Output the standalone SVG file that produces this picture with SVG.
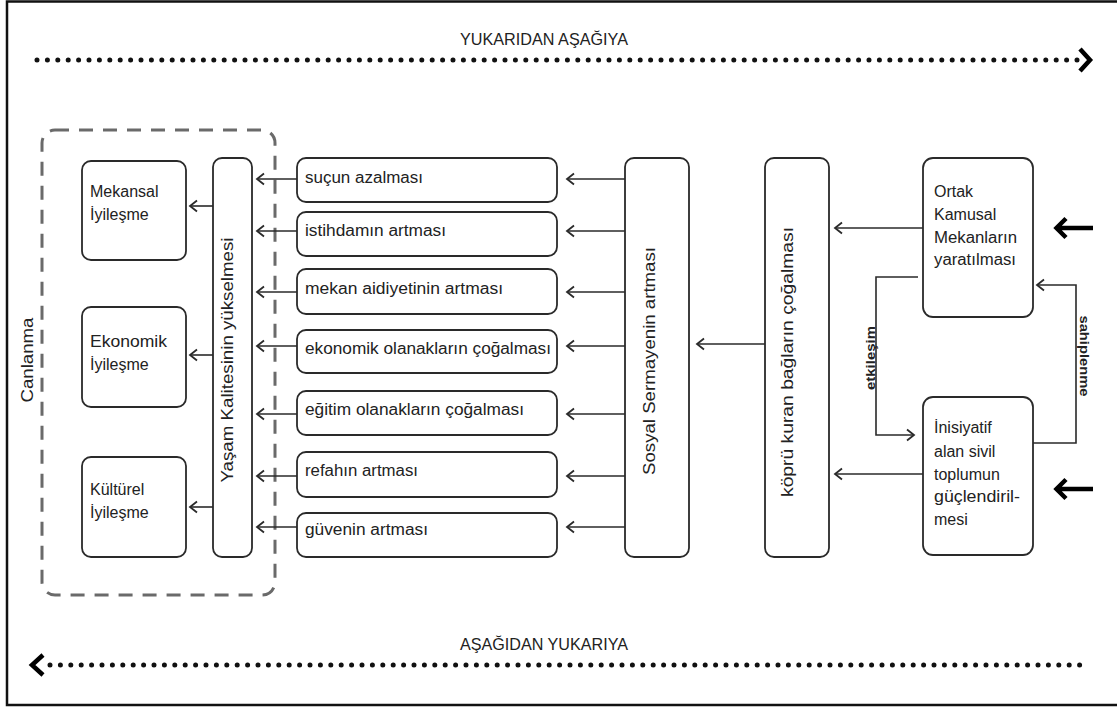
<svg xmlns="http://www.w3.org/2000/svg" width="1117" height="707" viewBox="0 0 1117 707">
<defs>
<style>
.box{fill:#fff;stroke:#2a2a2a;stroke-width:1.8}
.t{font-family:"Liberation Sans",Arial,sans-serif;font-size:16px;fill:#222}
.tv{font-family:"Liberation Sans",Arial,sans-serif;font-size:17px;fill:#222;text-anchor:middle}
.lbl{font-family:"Liberation Sans",Arial,sans-serif;font-size:12px;font-weight:bold;fill:#222;text-anchor:middle}
.hd{font-family:"Liberation Sans",Arial,sans-serif;font-size:17px;fill:#222;text-anchor:middle}
.c{fill:none;stroke:#2a2a2a;stroke-width:1.6;marker-end:url(#ah)}
.dots{fill:none;stroke:#111;stroke-width:5;stroke-linecap:round;stroke-dasharray:0 10.4}
.bold{fill:none;stroke:#000;stroke-width:4.5;stroke-linecap:butt;stroke-linejoin:miter}
</style>
<marker id="ah" markerUnits="userSpaceOnUse" markerWidth="14" markerHeight="14" viewBox="-10 -7 14 14" refX="0" refY="0" orient="auto">
<path d="M-7,-5.5 L0,0 L-7,5.5" fill="none" stroke="#2a2a2a" stroke-width="1.8"/>
</marker>
</defs>
<rect x="0" y="0" width="1117" height="707" fill="#fff"/>
<rect x="7" y="1.5" width="1120" height="703.5" fill="none" stroke="#111" stroke-width="2.5"/>

<g id="top-arrow">
<text class="hd" x="544" y="45" textLength="168" lengthAdjust="spacingAndGlyphs">YUKARIDAN AŞAĞIYA</text>
<line class="dots" x1="37" y1="60" x2="1077" y2="60"/>
<path d="M1080,49 L1090,60 L1080,71" fill="none" stroke="#000" stroke-width="4.5"/>
</g>
<g id="bottom-arrow">
<text class="hd" x="544" y="650" textLength="168" lengthAdjust="spacingAndGlyphs">AŞAĞIDAN YUKARIYA</text>
<line class="dots" x1="50" y1="665" x2="1085" y2="665"/>
<path d="M43,655 L32,665 L43,675" fill="none" stroke="#000" stroke-width="4.5"/>
</g>

<g id="canlanma">
<rect x="42" y="130" width="233" height="465" rx="13" fill="none" stroke="#6a6a6a" stroke-width="3" stroke-dasharray="14 10"/>
<text class="tv" transform="translate(33,360) rotate(-90)" textLength="85" lengthAdjust="spacingAndGlyphs">Canlanma</text>
</g>

<g id="mekansal"><rect class="box" x="82" y="161" width="104" height="99" rx="9"/><text class="t" x="90" y="197">Mekansal</text><text class="t" x="90" y="220">İyileşme</text></g>
<g id="ekonomik"><rect class="box" x="82" y="307" width="104" height="100" rx="9"/><text class="t" x="90" y="347" textLength="77" lengthAdjust="spacingAndGlyphs">Ekonomik</text><text class="t" x="90" y="370">İyileşme</text></g>
<g id="kulturel"><rect class="box" x="82" y="457" width="104" height="100" rx="9"/><text class="t" x="90" y="495">Kültürel</text><text class="t" x="90" y="518">İyileşme</text></g>

<g id="yasam"><rect class="box" x="213" y="158" width="39" height="399" rx="9"/><text class="tv" transform="translate(233,360) rotate(-90)" textLength="245" lengthAdjust="spacingAndGlyphs">Yaşam Kalitesinin yükselmesi</text></g>

<g id="sucun"><rect class="box" x="297" y="158" width="260" height="44" rx="9"/><text class="t" x="305" y="183" textLength="118" lengthAdjust="spacingAndGlyphs">suçun azalması</text></g>
<g id="istihdam"><rect class="box" x="297" y="212" width="260" height="44" rx="9"/><text class="t" x="305" y="236" textLength="141" lengthAdjust="spacingAndGlyphs">istihdamın artması</text></g>
<g id="mekan"><rect class="box" x="297" y="269" width="260" height="45" rx="9"/><text class="t" x="305" y="294" textLength="198" lengthAdjust="spacingAndGlyphs">mekan aidiyetinin artması</text></g>
<g id="ekonomik-olanak"><rect class="box" x="297" y="330" width="260" height="43" rx="9"/><text class="t" x="305" y="354" textLength="246" lengthAdjust="spacingAndGlyphs">ekonomik olanakların çoğalması</text></g>
<g id="egitim"><rect class="box" x="297" y="391" width="260" height="44" rx="9"/><text class="t" x="305" y="415" textLength="219" lengthAdjust="spacingAndGlyphs">eğitim olanakların çoğalması</text></g>
<g id="refah"><rect class="box" x="297" y="452" width="260" height="45" rx="9"/><text class="t" x="305" y="476" textLength="113" lengthAdjust="spacingAndGlyphs">refahın artması</text></g>
<g id="guven"><rect class="box" x="297" y="513" width="260" height="44" rx="9"/><text class="t" x="305" y="535" textLength="123" lengthAdjust="spacingAndGlyphs">güvenin artması</text></g>

<g id="sosyal"><rect class="box" x="625" y="158" width="64" height="399" rx="9"/><text class="tv" transform="translate(655,361) rotate(-90)" textLength="228" lengthAdjust="spacingAndGlyphs">Sosyal Sermayenin artması</text></g>
<g id="kopru"><rect class="box" x="765" y="158" width="64" height="399" rx="9"/><text class="tv" transform="translate(793,362) rotate(-90)" textLength="270" lengthAdjust="spacingAndGlyphs">köprü kuran bağların çoğalması</text></g>

<g id="ortak"><rect class="box" x="923" y="158" width="110" height="159" rx="10"/>
<text class="t" x="934" y="197">Ortak</text><text class="t" x="934" y="220">Kamusal</text><text class="t" x="934" y="243" textLength="83" lengthAdjust="spacingAndGlyphs">Mekanların</text><text class="t" x="934" y="265" textLength="82" lengthAdjust="spacingAndGlyphs">yaratılması</text></g>
<g id="inisiyatif"><rect class="box" x="923" y="397" width="110" height="158" rx="10"/>
<text class="t" x="934" y="433">İnisiyatif</text><text class="t" x="934" y="457">alan sivil</text><text class="t" x="934" y="480">toplumun</text><text class="t" x="934" y="502" textLength="86" lengthAdjust="spacingAndGlyphs">güçlendiril-</text><text class="t" x="934" y="525">mesi</text></g>

<g id="connectors">
<line class="c" x1="213" y1="206" x2="190" y2="206"/>
<line class="c" x1="213" y1="355" x2="190" y2="355"/>
<line class="c" x1="213" y1="507" x2="190" y2="507"/>
<line class="c" x1="297" y1="179" x2="257" y2="179"/>
<line class="c" x1="297" y1="231" x2="257" y2="231"/>
<line class="c" x1="297" y1="292" x2="257" y2="292"/>
<line class="c" x1="297" y1="346" x2="257" y2="346"/>
<line class="c" x1="297" y1="414" x2="257" y2="414"/>
<line class="c" x1="297" y1="476" x2="257" y2="476"/>
<line class="c" x1="297" y1="527" x2="257" y2="527"/>
<line class="c" x1="625" y1="179" x2="567" y2="179"/>
<line class="c" x1="625" y1="231" x2="567" y2="231"/>
<line class="c" x1="625" y1="292" x2="567" y2="292"/>
<line class="c" x1="625" y1="346" x2="567" y2="346"/>
<line class="c" x1="625" y1="414" x2="567" y2="414"/>
<line class="c" x1="625" y1="476" x2="567" y2="476"/>
<line class="c" x1="625" y1="527" x2="567" y2="527"/>
<line class="c" x1="765" y1="344" x2="697" y2="344"/>
<line class="c" x1="923" y1="228" x2="835" y2="228"/>
<line class="c" x1="923" y1="474" x2="835" y2="474"/>
<polyline class="c" points="918,277 876,277 876,435 914,435"/>
<polyline class="c" points="1033,443 1076,443 1076,285 1037,285"/>
<text class="lbl" transform="translate(875,358) rotate(-90)" textLength="64" lengthAdjust="spacingAndGlyphs">etkileşim</text>
<text class="lbl" transform="translate(1080,356) rotate(90)" textLength="81" lengthAdjust="spacingAndGlyphs">sahiplenme</text>
<path class="bold" d="M1093,228 L1058,228 M1066,218.5 L1056.5,228 L1066,237.5"/>
<path class="bold" d="M1093,489 L1058,489 M1066,479.5 L1056.5,489 L1066,498.5"/>
</g>
</svg>
